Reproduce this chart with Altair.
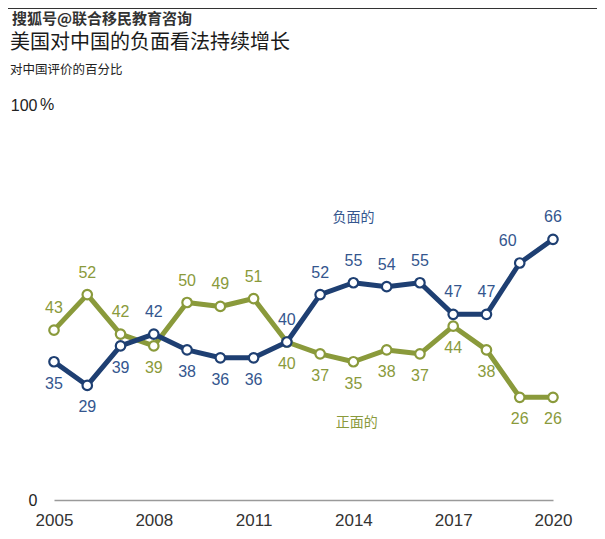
import altair as alt
import pandas as pd

years = list(range(2005, 2021))
negative = [35, 29, 39, 42, 38, 36, 36, 40, 52, 55, 54, 55, 47, 47, 60, 66]
positive = [43, 52, 42, 39, 50, 49, 51, 40, 37, 35, 38, 37, 44, 38, 26, 26]
neg_label_pos = ["below", "below", "below", "above", "below", "below", "below", "above",
                 "above", "above", "above", "above", "above", "above", "aboveleft", "above"]
pos_label_pos = ["above", "above", "above", "below", "above", "above", "above", "below",
                 "below", "below", "below", "below", "below", "below", "below", "below"]
x_ticks = [2005, 2008, 2011, 2014, 2017, 2020]
series_names = ["负面的", "正面的"]
line_colors = ["#1e3f72", "#8a9a3b"]
text_colors = ["#34568e", "#8a9a3b"]
series_label_x = [2014.0, 2014.1]
series_label_y = [71.5, 19.5]

title_text = "美国对中国的负面看法持续增长"
subtitle_text = "对中国评价的百分比"
watermark_text = "搜狐号@联合移民教育咨询"

rows = []
for name, vals, poss in [(series_names[0], negative, neg_label_pos),
                         (series_names[1], positive, pos_label_pos)]:
    for y, v, p in zip(years, vals, poss):
        rows.append({"year": y, "value": v, "series": name, "pos": p})
df = pd.DataFrame(rows)
one = pd.DataFrame({"k": [0]})

W, H = 499, 395
FONT = "Liberation Sans"
CJK = "Noto Sans CJK SC"

x_enc = alt.X("year:Q",
              scale=alt.Scale(domain=[2005, 2020], nice=False, zero=False),
              axis=alt.Axis(values=x_ticks, format="d", labelFontSize=17, tickSize=0,
                            domainColor="#9a9a9a", domainWidth=1.5, grid=False, title=None,
                            labelPadding=12, labelColor="#333", labelFlush=False,
                            labelFont=FONT))
y_enc = alt.Y("value:Q",
              scale=alt.Scale(domain=[0, 100], nice=False),
              axis=alt.Axis(values=[0, 100], labelExpr="datum.value == 100 ? '100' : '0'",
                            grid=False, domain=False, ticks=False, labelPadding=17,
                            labelFontSize=16, labelColor="#222", title=None,
                            labelFont=FONT, labelBaseline="middle"))

def series_layers(i):
    name = series_names[i]
    sub = alt.Chart(df).transform_filter(alt.datum.series == name)
    line = sub.mark_line(strokeWidth=5, color=line_colors[i], strokeJoin="round").encode(x=x_enc, y=y_enc)
    pts = sub.mark_point(shape="circle", filled=True, fill="white", stroke=line_colors[i],
                         strokeWidth=2.2, size=90, opacity=1).encode(x="year:Q", y="value:Q")
    above = sub.transform_filter(alt.datum.pos == "above").mark_text(
        dy=-22, fontSize=16, color=text_colors[i], font=FONT).encode(x="year:Q", y="value:Q", text="value:Q")
    below = sub.transform_filter(alt.datum.pos == "below").mark_text(
        dy=22, fontSize=16, color=text_colors[i], font=FONT).encode(x="year:Q", y="value:Q", text="value:Q")
    aboveleft = sub.transform_filter(alt.datum.pos == "aboveleft").mark_text(
        dy=-22, dx=-12, fontSize=16, color=text_colors[i], font=FONT).encode(x="year:Q", y="value:Q", text="value:Q")
    lab = alt.Chart(one).mark_text(fontSize=14, color=text_colors[i], font=CJK).encode(
        x=alt.datum(series_label_x[i]), y=alt.datum(series_label_y[i]), text=alt.value(name))
    return [line, pts, above, below, aboveleft, lab]

pct = alt.Chart(one).mark_text(fontSize=16, color="#222", font=FONT, align="center", baseline="middle").encode(
    x=alt.value(-7), y=alt.datum(100), text=alt.value("%"))
title = alt.Chart(one).mark_text(fontSize=20, color="#1a1a1a", font=CJK, align="left", baseline="middle").encode(
    x=alt.value(-44), y=alt.value(-62), text=alt.value(title_text))
subtitle = alt.Chart(one).mark_text(fontSize=12.5, color="#222", font=CJK, align="left", baseline="middle").encode(
    x=alt.value(-44), y=alt.value(-35), text=alt.value(subtitle_text))
watermark = alt.Chart(one).mark_text(fontSize=15, fontWeight="bold", color="#333", font=CJK,
                                     align="left", baseline="middle").encode(
    x=alt.value(-42), y=alt.value(-86), text=alt.value(watermark_text))
top_rule = alt.Chart(one).mark_rule(color="#333", strokeWidth=2).encode(
    x=alt.value(-54), x2=alt.value(W + 46), y=alt.value(-97))

layers = series_layers(1) + series_layers(0) + [pct, title, subtitle, watermark, top_rule]

chart = alt.layer(*layers).properties(
    width=W, height=H,
    autosize=alt.AutoSizeParams(type="none"),
    padding={"left": 46, "top": 97, "right": 44, "bottom": 34},
).configure(background="white").configure_view(strokeWidth=0, stroke=None)

chart.save("out.html", embed_options={"renderer": "svg", "actions": False})
